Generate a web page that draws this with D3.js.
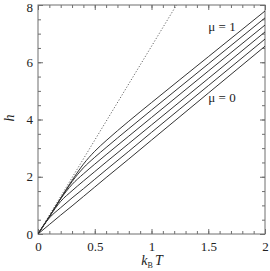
<!doctype html>
<html>
<head>
<script src="https://d3js.org/d3.v7.min.js"></script>
<style>
  body { margin: 0; background: #fff; }
  svg { display: block; }
  svg text { font-family: "Liberation Serif", "Times New Roman", Times, serif !important; }
</style>
</head>
<body>
<script>
// temperature grid (k_B T)
var temps = [0, 0.1, 0.2, 0.3, 0.4, 0.5, 0.6, 0.8, 1.0, 1.5, 2.0];
// h for mu = 0, 0.2, 0.4, 0.6, 0.8, 1
var hMu0  = [0, 0.33, 0.66, 0.98, 1.31, 1.64, 1.97, 2.62, 3.28, 4.92, 6.56];
var hMu02 = [0, 0.56, 0.92, 1.26, 1.58, 1.91, 2.24, 2.89, 3.55, 5.18, 6.81];
var hMu04 = [0, 0.60, 1.14, 1.51, 1.85, 2.18, 2.51, 3.16, 3.81, 5.43, 7.06];
var hMu06 = [0, 0.61, 1.23, 1.73, 2.10, 2.44, 2.77, 3.42, 4.07, 5.69, 7.30];
var hMu08 = [0, 0.61, 1.24, 1.83, 2.31, 2.68, 3.02, 3.68, 4.33, 5.94, 7.55];
var hMu1  = [0, 0.61, 1.25, 1.87, 2.44, 2.89, 3.26, 3.94, 4.59, 6.19, 7.79];
var series = [hMu0, hMu02, hMu04, hMu06, hMu08, hMu1];
// dotted limiting line
var dotT = [0, 1.22];
var dotH = [0, 8];

var xTicks = [0, 0.5, 1, 1.5, 2];
var yTicks = [0, 2, 4, 6, 8];

var W = 270, H = 271;
var margin = {top: 5, right: 5, bottom: 37, left: 38};

var svg = d3.select("body").append("svg").attr("width", W).attr("height", H);

var x = d3.scaleLinear().domain([0, 2]).range([margin.left, W - margin.right]);
var y = d3.scaleLinear().domain([0, 8]).range([H - margin.bottom, margin.top]);

var axisColor = "#6e6e6e";
var minorX = d3.range(0, 2.0001, 0.1);
var minorY = d3.range(0, 8.0001, 0.5);

function styleAxis(g) {
  g.attr("font-size", 13);
  g.select(".domain").remove();
  g.selectAll(".tick line").attr("stroke", axisColor);
  g.selectAll(".tick text").attr("fill", "#222");
}

// minor ticks (inward)
svg.append("g").attr("transform", "translate(0," + y(0) + ")")
  .call(d3.axisBottom(x).tickValues(minorX).tickSize(-3).tickFormat("")).call(styleAxis);
svg.append("g").attr("transform", "translate(0," + y(8) + ")")
  .call(d3.axisTop(x).tickValues(minorX).tickSize(-3).tickFormat("")).call(styleAxis);
svg.append("g").attr("transform", "translate(" + x(0) + ",0)")
  .call(d3.axisLeft(y).tickValues(minorY).tickSize(-3).tickFormat("")).call(styleAxis);
svg.append("g").attr("transform", "translate(" + x(2) + ",0)")
  .call(d3.axisRight(y).tickValues(minorY).tickSize(-3).tickFormat("")).call(styleAxis);

// major ticks with labels
svg.append("g").attr("transform", "translate(0," + y(0) + ")")
  .call(d3.axisBottom(x).tickValues(xTicks).tickSize(-5).tickPadding(8).tickFormat(d3.format("")))
  .call(styleAxis);
svg.append("g").attr("transform", "translate(0," + y(8) + ")")
  .call(d3.axisTop(x).tickValues(xTicks).tickSize(-5).tickFormat("")).call(styleAxis);
svg.append("g").attr("transform", "translate(" + x(0) + ",0)")
  .call(d3.axisLeft(y).tickValues(yTicks).tickSize(-5).tickPadding(5).tickFormat(d3.format("")))
  .call(styleAxis);
svg.append("g").attr("transform", "translate(" + x(2) + ",0)")
  .call(d3.axisRight(y).tickValues(yTicks).tickSize(-5).tickFormat("")).call(styleAxis);

// top label must stay inside the picture
svg.selectAll("text").filter(function() { return this.textContent === "8"; }).attr("dy", "0.5em");

// frame
svg.append("rect").attr("x", x(0)).attr("y", y(8))
  .attr("width", x(2) - x(0)).attr("height", y(0) - y(8))
  .attr("fill", "none").attr("stroke", axisColor).attr("stroke-width", 1);

svg.append("clipPath").attr("id", "clip").append("rect")
  .attr("x", x(0)).attr("y", y(8)).attr("width", x(2) - x(0)).attr("height", y(0) - y(8));

var plot = svg.append("g").attr("clip-path", "url(#clip)");

var line = d3.line().x(function(d) { return x(d[0]); }).y(function(d) { return y(d[1]); })
  .curve(d3.curveMonotoneX);

plot.append("path")
  .datum(dotT.map(function(t, i) { return [t, dotH[i]]; }))
  .attr("d", line).attr("fill", "none").attr("stroke", "#555")
  .attr("stroke-width", 0.9).attr("stroke-dasharray", "1.2,1.8");

series.forEach(function(s) {
  plot.append("path")
    .datum(temps.map(function(t, i) { return [t, s[i]]; }))
    .attr("d", line).attr("fill", "none").attr("stroke", "#333").attr("stroke-width", 1);
});

// labels
svg.append("text").attr("x", 222).attr("y", 31).attr("text-anchor", "middle")
  .attr("font-size", 13).attr("fill", "#222").text("μ = 1");
svg.append("text").attr("x", 222).attr("y", 102).attr("text-anchor", "middle")
  .attr("font-size", 13).attr("fill", "#222").text("μ = 0");

var xl = svg.append("text").attr("x", 152).attr("y", 265).attr("text-anchor", "middle")
  .attr("font-size", 14).attr("fill", "#222");
xl.append("tspan").attr("font-style", "italic").text("k");
xl.append("tspan").attr("dy", 3).attr("font-size", 8).text("B");
xl.append("tspan").attr("dy", -3).attr("dx", 2).attr("font-style", "italic").text("T");

svg.append("text").attr("transform", "translate(14,118) rotate(-90)")
  .attr("text-anchor", "middle")
  .attr("font-size", 14).attr("font-style", "italic")
  .attr("fill", "#222").text("h");
</script>
</body>
</html>
